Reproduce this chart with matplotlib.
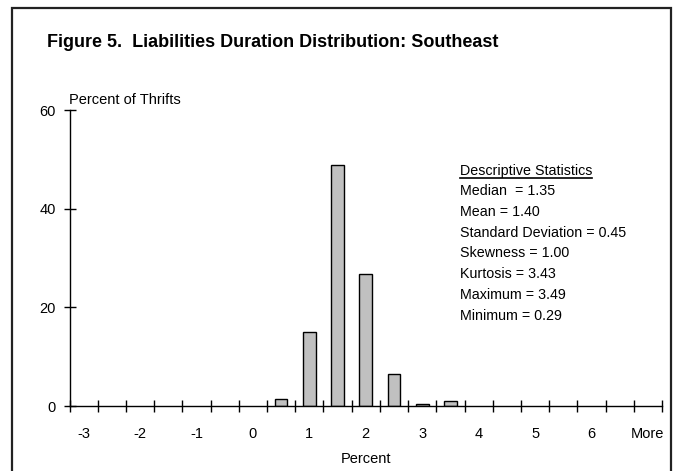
import numpy as np
import matplotlib
matplotlib.use('Agg')
import matplotlib.pyplot as plt
from matplotlib.patches import Rectangle
from matplotlib.lines import Line2D

plt.rcParams['font.family'] = ['Liberation Sans', 'DejaVu Sans']

# histogram bins (upper edges) and share of thrifts in each bin
bins = ['-3', '-2.5', '-2', '-1.5', '-1', '-0.5', '0', '0.5', '1', '1.5', '2',
        '2.5', '3', '3.5', '4', '4.5', '5', '5.5', '6', '6.5', 'More']
values = [0, 0, 0, 0, 0, 0, 0, 1.4, 15.0, 48.9, 26.7, 6.4, 0.4, 1.0,
          0, 0, 0, 0, 0, 0, 0]
tick_labels = ['-3', '', '-2', '', '-1', '', '0', '', '1', '', '2', '',
               '3', '', '4', '', '5', '', '6', '', 'More']
stats = ['Median  = 1.35', 'Mean = 1.40', 'Standard Deviation = 0.45',
         'Skewness = 1.00', 'Kurtosis = 3.43', 'Maximum = 3.49', 'Minimum = 0.29']

W, H = 673, 471
fig = plt.figure(figsize=(W / 100, H / 100), dpi=100)

# frame round the whole chart (open at the bottom edge)
fig.patches.append(Rectangle((12 / W, -0.05), (671 - 12) / W, 1 - 8 / H + 0.05,
                             transform=fig.transFigure, fill=False,
                             edgecolor='#222222', lw=1.6, clip_on=False))

ax = fig.add_axes([69.5 / W, 1 - 406 / H, (662 - 69.5) / W, (406 - 110) / H])

x = np.arange(len(bins))
vals = np.array(values)
nz = vals > 0  # empty bins are not drawn
ax.bar(x[nz], vals[nz], width=0.45, color='#c0c0c0', edgecolor='black', lw=1.0)

ax.set_xlim(-0.5, len(bins) - 0.5)
ax.set_ylim(0, 60)
ax.set_yticks([0, 20, 40, 60])
ax.set_xticks(x)
ax.set_xticklabels(tick_labels)
ax.set_xticks(np.arange(-0.5, len(bins)), minor=True)
ax.tick_params(axis='x', which='major', length=0, pad=15, labelsize=10.5)
ax.tick_params(axis='x', which='minor', direction='inout', length=9, width=1)
ax.tick_params(axis='y', direction='inout', length=8, width=1, pad=6, labelsize=10.5)

for s in ['top', 'right']:
    ax.spines[s].set_visible(False)
for s in ['left', 'bottom']:
    ax.spines[s].set_linewidth(1)

ax.set_xlabel('Percent', fontsize=10.5, labelpad=8)

fig.text(47 / W, 1 - 47 / H, 'Figure 5.  Liabilities Duration Distribution: Southeast',
         fontsize=13, fontweight='bold', va='baseline')
fig.text(69 / W, 1 - 104 / H, 'Percent of Thrifts', fontsize=10.5, va='baseline')

# descriptive statistics box
fig.text(460 / W, 1 - 175 / H, 'Descriptive Statistics', fontsize=10.3, va='baseline')
fig.lines.append(Line2D([460 / W, 592 / W], [1 - 178 / H, 1 - 178 / H],
                        transform=fig.transFigure, color='black', lw=1.2))
for i, s in enumerate(stats):
    fig.text(460 / W, 1 - (195 + i * 20.8) / H, s, fontsize=10.3, va='baseline')

plt.savefig('out.png', dpi=100)
